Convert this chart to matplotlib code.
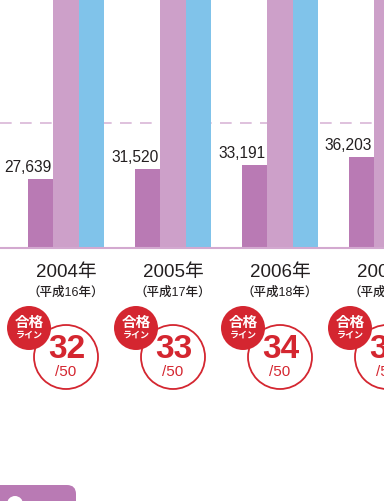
import matplotlib
matplotlib.use("Agg")
import matplotlib.pyplot as plt
import matplotlib.patches as mpatches
from matplotlib.transforms import IdentityTransform
import numpy as np

# data
years = ["2004年", "2005年", "2006年", "2007年"]
eras = ["（平成16年）", "（平成17年）", "（平成18年）", "（平成19年）"]
passers = [27639, 31520, 33191, 36203]
applicants = [173457, 181880, 193573, 209684]   # bars run off the top of the crop
examinees = [128703, 148373, 150000, 160000]
pass_line = [32, 33, 34, 35]

purple = "#b97ab4"
pink = "#cda0c9"
blue = "#80c3ea"
red = "#d42630"
jp = ["Liberation Sans", "Noto Sans CJK JP"]

fig = plt.figure(figsize=(3.84, 5.02), dpi=100)
ax = fig.add_axes([0, 0, 1, 1])
ax.set_xlim(-0.617, 2.972)
ax.set_ylim(-101200, 99600)
ax.axis("off")

x = np.arange(len(years))
w = 0.238
px_y = 400.0      # data units per pixel (y)
px_x = 1 / 107.0  # data units per pixel (x)

ax.axhline(50000, color="#d9b6d7", lw=1.2, ls=(0, (7, 5)), zorder=1)
ax.bar(x - w, passers, w, color=purple, zorder=2)
ax.bar(x, applicants, w, color=pink, zorder=2)
ax.bar(x + w, examinees, w, color=blue, zorder=2)
ax.axhline(0, color="#d3a9d0", lw=1.5, zorder=3)

for i in range(len(years)):
    ax.text(x[i] - w / 2 - 2 * px_x, passers[i] + 5 * px_y, f"{passers[i]:,}",
            ha="right", va="bottom", fontsize=11.2, color="#231f20",
            family="Liberation Sans")
    ax.text(x[i], -24 * px_y, years[i], ha="center", va="center",
            fontsize=13.5, color="#231f20", family=jp)
    ax.text(x[i], -44 * px_y, eras[i], ha="center", va="center",
            fontsize=9, color="#231f20", family=jp, fontweight="medium")

    # pass line badge
    ring = mpatches.Ellipse((x[i], -109 * px_y), 64 * px_x, 64 * px_y,
                            facecolor="white", edgecolor=red, lw=1.3, zorder=4)
    ax.add_patch(ring)
    dot = mpatches.Ellipse((x[i] - 37 * px_x, -80 * px_y), 44 * px_x, 44 * px_y,
                           facecolor=red, edgecolor="none", zorder=5)
    ax.add_patch(dot)
    ax.text(x[i] - 37 * px_x, -73 * px_y, "合格", ha="center", va="center",
            fontsize=10.5, color="white", fontweight="bold",
            family="Noto Sans CJK JP", zorder=6)
    ax.text(x[i] - 37 * px_x, -86 * px_y, "ライン", ha="center", va="center",
            fontsize=6.5, color="white", fontweight="bold",
            family="Noto Sans CJK JP", zorder=6)
    ax.text(x[i] + 1 * px_x, -101 * px_y, str(pass_line[i]), ha="center", va="center",
            fontsize=24, color=red, fontweight="bold", family="Liberation Sans",
            zorder=6)
    ax.text(x[i], -123 * px_y, "/50", ha="center", va="center",
            fontsize=11, color=red, family="Liberation Sans", zorder=6)

# tab at the bottom left
tab = mpatches.FancyBboxPatch((-20, -20), 96, 36, boxstyle="round,pad=0,rounding_size=9",
                              transform=IdentityTransform(), facecolor=purple,
                              edgecolor="none")
fig.patches.append(tab)
hole = mpatches.Circle((15, -3), 8, transform=IdentityTransform(), facecolor="white",
                       edgecolor="none")
fig.patches.append(hole)

fig.savefig("out.png", dpi=100)
